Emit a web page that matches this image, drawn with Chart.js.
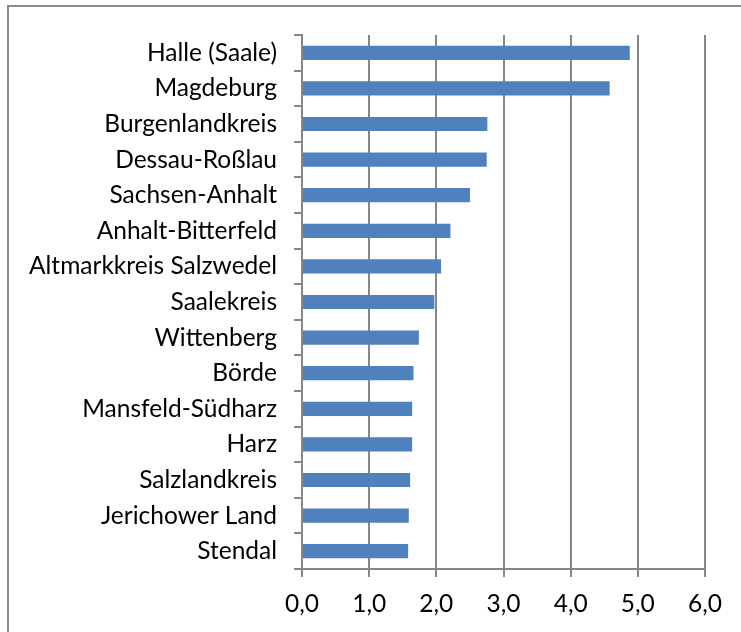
<!DOCTYPE html>
<html>
<head>
<meta charset="utf-8">
<script src="https://cdn.jsdelivr.net/npm/chart.js@4/dist/chart.umd.min.js"></script>
<style>
  html, body { margin: 0; padding: 0; background: #fff; }
  #wrap { position: relative; width: 741px; height: 632px; overflow: hidden; }
  #frame { position: absolute; left: 7px; top: 5px; width: 800px; height: 700px;
           border-left: 2px solid #8c8c8c; border-top: 2px solid #8c8c8c; box-sizing: border-box; }
  canvas { position: absolute; left: 0; top: 0; }
</style>
</head>
<body>
<div id="wrap">
  <div id="frame"></div>
  <canvas id="c" width="741" height="632"></canvas>
</div>
<script>
const categories = [
  "Halle (Saale)", "Magdeburg", "Burgenlandkreis", "Dessau-Roßlau", "Sachsen-Anhalt",
  "Anhalt-Bitterfeld", "Altmarkkreis Salzwedel", "Saalekreis", "Wittenberg", "Börde",
  "Mansfeld-Südharz", "Harz", "Salzlandkreis", "Jerichower Land", "Stendal"
];
const values = [4.88, 4.58, 2.76, 2.75, 2.50, 2.21, 2.07, 1.97, 1.74, 1.66, 1.64, 1.64, 1.61, 1.59, 1.58];
const xTickLabels = ["0,0", "1,0", "2,0", "3,0", "4,0", "5,0", "6,0"];

const FONT = "Lato, 'Open Sans', sans-serif";
const GRID = "#878787";

new Chart(document.getElementById('c'), {
  type: 'bar',
  data: {
    labels: categories,
    datasets: [{
      data: values,
      backgroundColor: '#4F81BD',
      borderWidth: 0,
      barPercentage: 0.4,
      categoryPercentage: 1.0
    }]
  },
  options: {
    indexAxis: 'y',
    responsive: false,
    animation: false,
    devicePixelRatio: 1,
    layout: { padding: { top: 35, right: 36, left: 0, bottom: 0 } },
    plugins: { legend: { display: false }, tooltip: { enabled: false } },
    scales: {
      x: {
        min: 0, max: 6,
        ticks: {
          stepSize: 1,
          color: '#000',
          font: { family: FONT, size: 24.5 },
          padding: 12,
          callback: (v, i) => xTickLabels[i]
        },
        grid: { color: GRID, lineWidth: 2, tickLength: 8, drawTicks: true },
        border: { color: GRID, width: 2 },
        afterFit: (s) => { s.height = 63; }
      },
      y: {
        ticks: {
          color: '#000',
          font: { family: FONT, size: 24.5 },
          padding: 17,
          autoSkip: false
        },
        grid: { offset: true, drawOnChartArea: false, drawTicks: true, tickLength: 8, color: GRID, lineWidth: 2 },
        border: { color: GRID, width: 2 },
        afterFit: (s) => { s.width = 302; }
      }
    }
  }
});
</script>
</body>
</html>
